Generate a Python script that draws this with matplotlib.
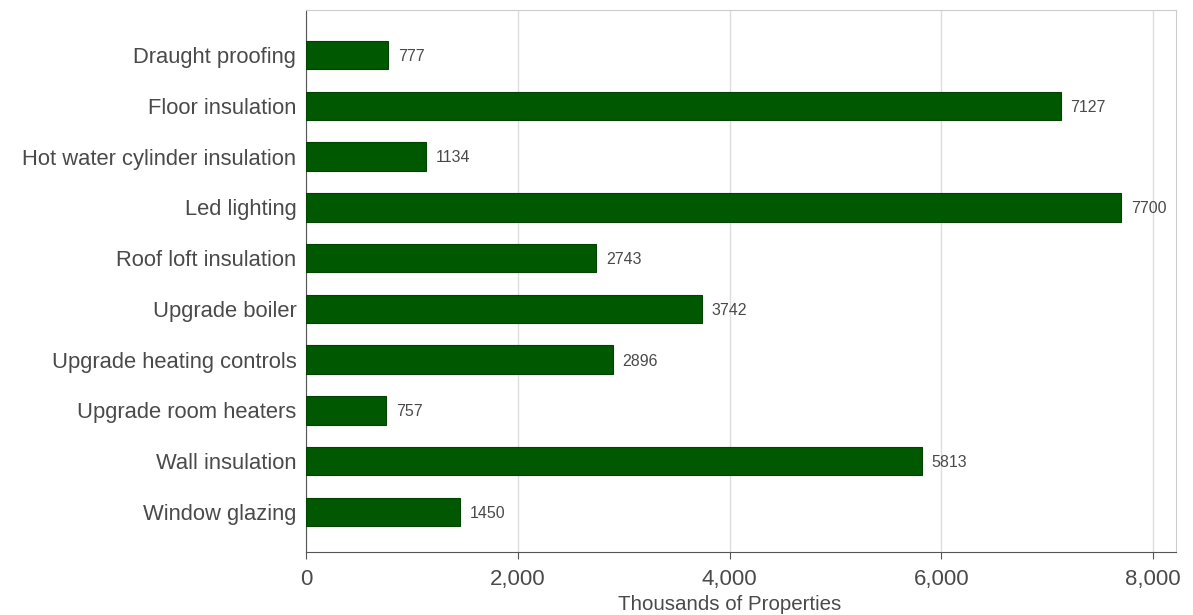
import numpy as np
import matplotlib.pyplot as plt

measures = ['Draught proofing', 'Floor insulation', 'Hot water cylinder insulation',
            'Led lighting', 'Roof loft insulation', 'Upgrade boiler',
            'Upgrade heating controls', 'Upgrade room heaters', 'Wall insulation',
            'Window glazing']
properties = [777, 7127, 1134, 7700, 2743, 3742, 2896, 757, 5813, 1450]
xticks = [0, 2000, 4000, 6000, 8000]

plt.rcParams['font.family'] = ['Liberation Sans', 'DejaVu Sans']

fig = plt.figure(figsize=(11.93, 6.15), dpi=100)
ax = fig.add_axes([0.2565, 0.1024, 0.7293, 0.8813])

y = np.arange(len(measures))
bars = ax.barh(y, properties, height=0.56, color='#005800', edgecolor='#004400', linewidth=0.8, zorder=3)

# value labels just past the end of each bar
for b, v in zip(bars, properties):
    ax.annotate(str(v), (b.get_width(), b.get_y() + b.get_height() / 2),
                xytext=(7, -1), textcoords='offset points', va='center', ha='left',
                fontsize=11.5, color='#4a4a4a')

ax.set_yticks(y)
ax.set_yticklabels(measures, fontsize=15.8, color='#4a4a4a')
ax.set_ylim(len(measures) - 1 + 0.79, -0.886)
ax.set_xlim(0, 8217)
ax.set_xticks(xticks)
ax.set_xticklabels(['{:,}'.format(t) for t in xticks], fontsize=16, color='#4a4a4a')
ax.set_xlabel('Thousands of Properties', fontsize=14.8, color='#4a4a4a', va='center')
ax.xaxis.set_label_coords(0.487, -0.097)

ax.grid(axis='x', color='#dddddd', linewidth=1, zorder=0)
ax.tick_params(axis='y', length=0, pad=7)
ax.tick_params(axis='x', length=5, color='#555555', pad=7)
for s in ['top', 'right']:
    ax.spines[s].set_color('#cccccc')
for s in ['left', 'bottom']:
    ax.spines[s].set_color('#555555')

fig.savefig('out.png')
